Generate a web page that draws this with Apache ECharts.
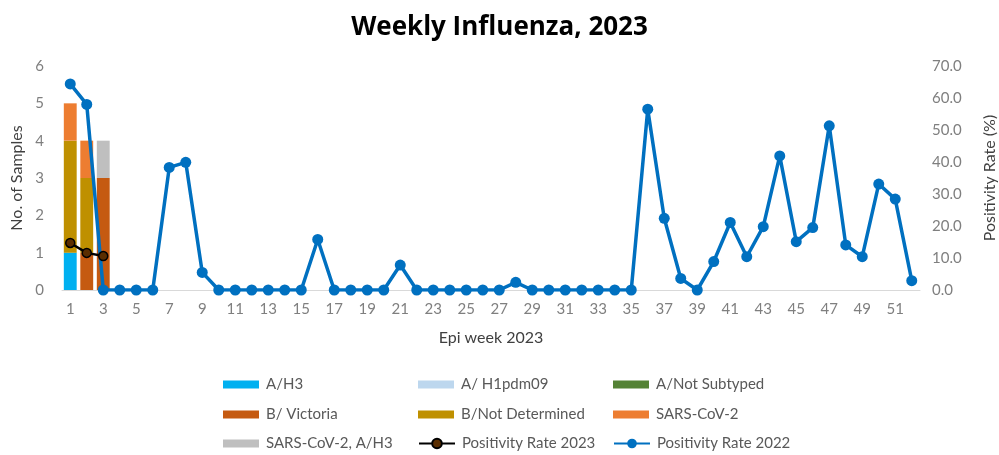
<!DOCTYPE html>
<html><head><meta charset="utf-8">
<script src="https://cdn.jsdelivr.net/npm/echarts@6/dist/echarts.min.js"></script>
<style>html,body{margin:0;padding:0;background:#fff}#c{width:999px;height:455px}</style>
</head><body><div id="c"></div>
<script>
const weeks = Array.from({length:52},(_,i)=>String(i+1));
const aH3 = [1,0,0];
const aH1pdm09 = [0,0,0];
const aNotSubtyped = [0,0,0];
const bVictoria = [0,1,3];
const bNotDetermined = [3,2,0];
const sarsCov2 = [1,1,0];
const sarsCov2AH3 = [0,0,1];
const pos2023 = [14.7,11.6,10.6];
const pos2022 = [64.4,58.0,0,0,0,0,38.3,39.9,5.5,0,0,0,0,0,0,15.8,0,0,0,0,7.8,0,0,0,0,0,0,2.4,0,0,0,0,0,0,0,56.5,22.4,3.6,0,8.9,21.1,10.4,19.8,41.9,15.1,19.5,51.3,14.1,10.4,33.1,28.4,2.9];

const FONT = 'Lato';
const chart = echarts.init(document.getElementById('c'));
const barNames = ['A/H3','A/ H1pdm09','A/Not Subtyped','B/ Victoria','B/Not Determined','SARS-CoV-2','SARS-CoV-2, A/H3'];
const barData = [aH3,aH1pdm09,aNotSubtyped,bVictoria,bNotDetermined,sarsCov2,sarsCov2AH3];
const barColors = ['#00B0F0','#BDD7EE','#548235','#C55A11','#BF9000','#ED7D31','#BFBFBF'];
const pad = a => a.map(v => v === 0 ? null : v);

const series = barNames.map((n,i)=>({
  name:n, type:'bar', stack:'s', yAxisIndex:0, barWidth:'78%',
  data: pad(barData[i]), itemStyle:{color:barColors[i]}
}));
series.push({name:'Positivity Rate 2023', type:'line', yAxisIndex:1, data:pos2023,
  symbol:'circle', symbolSize:9, showAllSymbol:true, lineStyle:{color:'#000',width:2.5},
  itemStyle:{color:'#5a2d00',borderColor:'#000',borderWidth:1.5}, z:5});
series.push({name:'Positivity Rate 2022', type:'line', yAxisIndex:1, data:pos2022,
  symbol:'circle', symbolSize:11, showAllSymbol:true, lineStyle:{color:'#0070C0',width:3.5},
  itemStyle:{color:'#0070C0'}, z:4});

const legendPos = [
  ['A/H3',218,372],['A/ H1pdm09',413,372],['A/Not Subtyped',608,372],
  ['B/ Victoria',218,402],['B/Not Determined',413,402],['SARS-CoV-2',608,402],
  ['SARS-CoV-2, A/H3',218,431],['Positivity Rate 2023',413,431],['Positivity Rate 2022',608,431]
];
const legends = legendPos.map(([n,x,y])=>({
  data:[n], left:x, top:y, itemWidth:36, itemHeight: n.startsWith('Positivity')?12:8,
  icon: n.startsWith('Positivity') ? undefined : 'rect',
  textStyle:{fontFamily:FONT,fontSize:15,color:'#595959',padding:[0,0,0,2]},
  selectedMode:false
}));

chart.setOption({
  animation:false,
  title:{text:'Weekly Influenza, 2023', left:'center', top:10,
    textStyle:{fontFamily:'Open Sans',fontSize:26,fontWeight:'bold',color:'#000'}},
  legend:legends,
  grid:{left:62,right:79,top:66,bottom:165,containLabel:false,outerBoundsMode:'none'},
  xAxis:{type:'category', data:weeks, name:'Epi week 2023', nameLocation:'middle', nameGap:40,
    nameTextStyle:{fontFamily:FONT,fontSize:16,color:'#404040'},
    axisLine:{lineStyle:{color:'#D9D9D9'}}, axisTick:{show:false},
    axisLabel:{interval:1,fontFamily:FONT,fontSize:15,color:'#7F7F7F',margin:12}},
  yAxis:[
    {type:'value', min:0, max:6, interval:1, name:'No. of Samples', nameLocation:'middle', nameGap:36,
     nameTextStyle:{fontFamily:FONT,fontSize:16,color:'#404040'},
     axisLine:{show:false}, axisTick:{show:false}, splitLine:{show:false},
     axisLabel:{fontFamily:FONT,fontSize:15,color:'#7F7F7F',margin:18}},
    {type:'value', min:0, max:70, interval:10, name:'Positivity Rate (%)', nameLocation:'middle', nameGap:62,
     nameRotate:90,
     nameTextStyle:{fontFamily:FONT,fontSize:16,color:'#404040'},
     axisLine:{show:false}, axisTick:{show:false}, splitLine:{show:false},
     axisLabel:{fontFamily:FONT,fontSize:15,color:'#7F7F7F',margin:12,formatter:v=>v.toFixed(1)}}
  ],
  series
});
</script></body></html>
